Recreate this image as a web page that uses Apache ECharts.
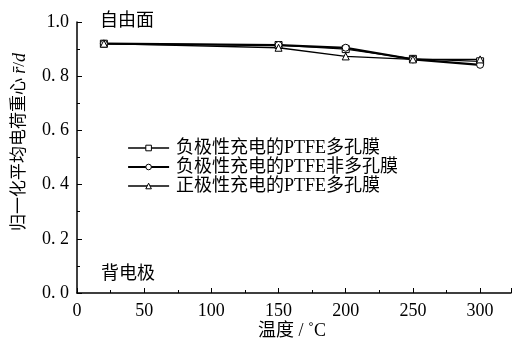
<!DOCTYPE html>
<html><head><meta charset="utf-8">
<script src="https://cdn.jsdelivr.net/npm/echarts@6/dist/echarts.min.js"></script>
<style>html,body{margin:0;padding:0;background:#fff}#c{width:514px;height:346px}</style>
</head><body><div id="c"></div>
<script>
const temps = [20, 150, 200, 250, 300];
const seriesNames = ['负极性充电的PTFE多孔膜', '负极性充电的PTFE非多孔膜', '正极性充电的PTFE多孔膜'];
const negPorous = [0.92, 0.915, 0.90, 0.864, 0.855];
const negNonPorous = [0.92, 0.915, 0.905, 0.862, 0.842];
const posPorous = [0.92, 0.905, 0.873, 0.862, 0.862];
const yTicks = ['0. 0', '0. 2', '0. 4', '0. 6', '0. 8', '1.0'];
const xTicks = [0, 50, 100, 150, 200, 250, 300];

const serif = '"Liberation Serif","Noto Sans CJK SC",serif';
const chart = echarts.init(document.getElementById('c'));
function pairs(v){ return temps.map((t,i)=>[t, v[i]]); }
const widths = [1.3, 2.2, 1.3];
const mk = (name, data, sym, w) => ({
  name, type:'line', data: pairs(data), symbol: sym, symbolSize: 7,
  lineStyle:{color:'#000', width:w},
  itemStyle:{color:'#fff', borderColor:'#000', borderWidth:1},
  emphasis:{disabled:true}, z: 3
});
chart.setOption({
  animation:false,
  backgroundColor:'#fff',
  grid:{left:77, top:22, right:1, bottom:53, containLabel:false},
  legend:{
    orient:'vertical', left:122, top:134, itemWidth:41, itemHeight:7, itemGap:1,
    textStyle:{fontFamily:serif, fontSize:18, color:'#000', padding:[0,0,0,2]},
    data: seriesNames.map((n,i)=>({name:n, lineStyle:{width:widths[i], color:'#000'},
      itemStyle:{color:'#fff', borderColor:'#000', borderWidth:1}}))
  },
  xAxis:{
    type:'value', min:0, max:323, interval:50,
    axisLine:{lineStyle:{color:'#000', width:1.5}},
    axisTick:{inside:true, length:5, lineStyle:{color:'#000'}},
    minorTick:{show:true, splitNumber:2, length:3, lineStyle:{color:'#000'}},
    splitLine:{show:false},
    axisLabel:{color:'#000', fontFamily:serif, fontSize:18, margin:9,
      formatter: v => xTicks.includes(v) ? String(v) : ''}
  },
  yAxis:{
    type:'value', min:0, max:1, interval:0.2,
    axisLine:{show:true, lineStyle:{color:'#000', width:1.5}},
    axisTick:{inside:true, length:5, lineStyle:{color:'#000'}},
    minorTick:{show:true, splitNumber:2, length:3, lineStyle:{color:'#000'}},
    splitLine:{show:false},
    axisLabel:{color:'#000', fontFamily:serif, fontSize:18, margin:8,
      formatter: (v) => yTicks[Math.round(v*5)]}
  },
  graphic:[
    {type:'text', left:100, top:12, style:{text:'自由面', font:'18px ' + serif, fill:'#000'}},
    {type:'text', left:101, top:265, style:{text:'背电极', font:'18px ' + serif, fill:'#000'}},
    {type:'text', x:292, y:331, style:{text:'温度 / ˚C', font:'18px ' + serif, fill:'#000', align:'center', verticalAlign:'middle'}},
    {type:'text', x:20, y:142, rotation:Math.PI/2,
      style:{text:'{a|归一化平均电荷重心 }{b|r̄}{a|/}{b|d}', align:'center', verticalAlign:'middle',
        rich:{a:{fontFamily:serif, fontSize:17, fill:'#000'}, b:{fontFamily:serif, fontStyle:'italic', fontSize:18, fill:'#000'}}}}
  ],
  series:[
    mk(seriesNames[0], negPorous, 'rect', widths[0]),
    mk(seriesNames[1], negNonPorous, 'circle', widths[1]),
    mk(seriesNames[2], posPorous, 'triangle', widths[2])
  ]
});
</script></body></html>
